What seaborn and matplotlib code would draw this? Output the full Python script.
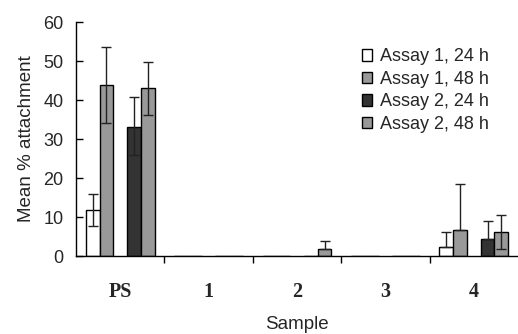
import matplotlib
matplotlib.use("Agg")
import matplotlib.pyplot as plt
import seaborn as sns
import pandas as pd
import numpy as np
from matplotlib.patches import Patch
from matplotlib.ticker import FixedLocator

samples = ["PS", "1", "2", "3", "4"]
series = ["Assay 1, 24 h", "Assay 1, 48 h", "Assay 2, 24 h", "Assay 2, 48 h"]
values = {
    "Assay 1, 24 h": [11.7, 0, 0, 0, 2.4],
    "Assay 1, 48 h": [43.8, 0, 0, 0, 6.6],
    "Assay 2, 24 h": [33.2, 0, 0, 0, 4.4],
    "Assay 2, 48 h": [43.1, 0, 1.7, 0, 6.2],
}
err_lower = {
    "Assay 1, 24 h": [4.1, 0, 0, 0, 0],
    "Assay 1, 48 h": [9.7, 0, 0, 0, 0],
    "Assay 2, 24 h": [7.4, 0, 0, 0, 0],
    "Assay 2, 48 h": [6.8, 0, 0, 0, 4.4],
}
err_upper = {
    "Assay 1, 24 h": [4.2, 0, 0, 0, 3.8],
    "Assay 1, 48 h": [9.8, 0, 0, 0, 12.0],
    "Assay 2, 24 h": [7.6, 0, 0, 0, 4.6],
    "Assay 2, 48 h": [6.7, 0, 2.2, 0, 4.3],
}
colors = ["#ffffff", "#999999", "#333333", "#999999"]

rows = []
for s in series:
    for cat, v in zip(samples, values[s]):
        rows.append({"Sample": cat, "Series": s, "Value": v})
df = pd.DataFrame(rows)

gap = " "
hue_order = series[:2] + [gap] + series[2:]
palette = colors[:2] + ["#ffffff"] + colors[2:]

sns.set_style("white")
plt.rcParams["font.family"] = ["Liberation Sans", "DejaVu Sans"]

fig = plt.figure(figsize=(5.18, 3.34), dpi=100)
ax = fig.add_axes([0.1467, 0.2335, 0.8533, 0.700])

sns.barplot(data=df, x="Sample", y="Value", hue="Series", order=samples,
            hue_order=hue_order, palette=palette, width=0.78, gap=0,
            errorbar=None, edgecolor="black", linewidth=1.0, saturation=1,
            legend=False, ax=ax)

conts = [c for c in ax.containers if len(c) > 0]
for cont, s in zip(conts, series):
    xs = np.array([b.get_x() + b.get_width() / 2 for b in cont])
    hs = np.array([b.get_height() for b in cont])
    lo = np.array(err_lower[s])
    up = np.array(err_upper[s])
    mask = (lo + up) > 0
    ax.errorbar(xs[mask], hs[mask],
                yerr=[lo[mask], up[mask]], fmt="none", ecolor="#222222",
                elinewidth=1.0, capsize=3.5, capthick=1.0, zorder=5)

ax.set_xlim(-0.5, 4.5)
ax.set_ylim(0, 60)
ax.set_yticks(range(0, 61, 10))
ax.tick_params(axis="y", direction="in", length=5, width=1, labelsize=13,
               left=True, pad=9, color="black")
ax.xaxis.set_minor_locator(FixedLocator([0.5, 1.5, 2.5, 3.5]))
ax.tick_params(axis="x", which="major", length=0, pad=19)
ax.tick_params(axis="x", which="minor", direction="out", length=5, width=1,
               bottom=True, color="black")
for lab in ax.get_xticklabels():
    lab.set_fontfamily("Liberation Serif")
    lab.set_fontweight("bold")
    lab.set_fontsize(14.5)

for sp in ["top", "right"]:
    ax.spines[sp].set_visible(False)
for sp in ["left", "bottom"]:
    ax.spines[sp].set_color("black")
    ax.spines[sp].set_linewidth(1)

ax.set_ylabel("Mean % attachment", fontsize=13.5, labelpad=6)
ax.set_xlabel("Sample", fontsize=13.5)
ax.xaxis.set_label_coords(0.5, -0.255)

handles = [Patch(facecolor=c, edgecolor="black", linewidth=1) for c in colors]
ax.legend(handles, series, loc="upper left", bbox_to_anchor=(0.646, 0.888),
          frameon=False, fontsize=13, handlelength=0.6, handleheight=0.6,
          handletextpad=0.4, labelspacing=0.3, borderpad=0, borderaxespad=0)

fig.savefig("out.png", dpi=100)
